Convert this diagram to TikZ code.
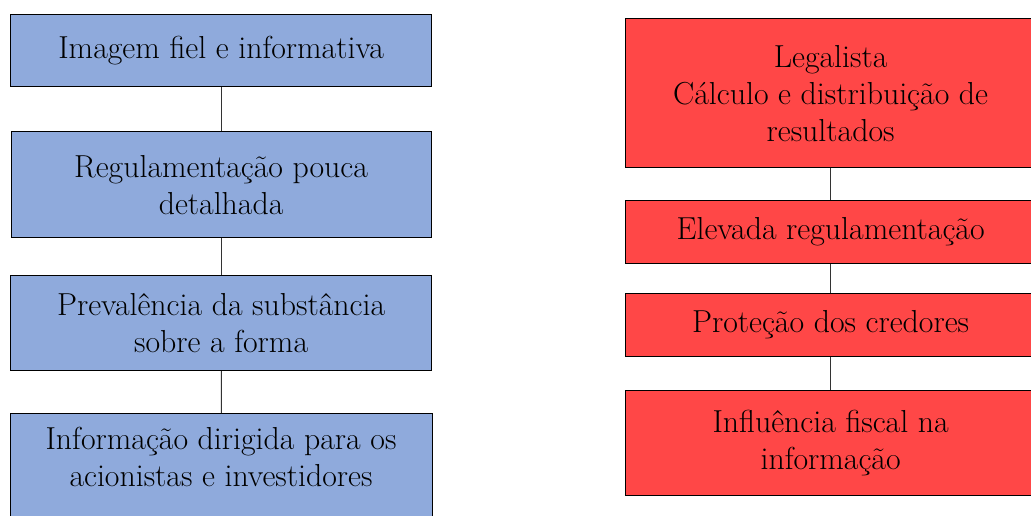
\documentclass[tikz,border=0pt]{standalone}
\usepackage{fontspec}
\newfontfamily\tnr{Latin Modern Roman}
\definecolor{boxblue}{RGB}{143,170,220}
\definecolor{boxred}{RGB}{255,71,71}
\begin{document}
\begin{tikzpicture}[x=1pt,y=-1pt,
  boxtext/.style={font=\tnr\fontsize{31.8}{37}\selectfont,align=center},
  box/.style={boxtext,draw=black,line width=1.2pt,rectangle,inner sep=0pt,anchor=north west},
  bluebox/.style={box,fill=boxblue},
  redbox/.style={box,fill=boxred},
  link/.style={draw=black!80,line width=1pt}]
\useasboundingbox (0,0) rectangle (1031,516);
\clip (0,0) rectangle (1031,516);
% left column
\node[bluebox,minimum width=421pt,minimum height=72pt] (l1) at (10,14) {Imagem fiel e informativa};
\node[bluebox,minimum width=420pt,minimum height=106pt] (l2) at (10.5,131) {Regulamentação pouca\\detalhada};
\node[bluebox,minimum width=421pt,minimum height=95pt] (l3) at (10,275) {Prevalência da substância\\sobre a forma};
\node[bluebox,minimum width=422pt,minimum height=118pt] (l4) at (10,413) {};
\node[boxtext,anchor=north] (l4t) at (221,424) {Informação dirigida para os\\acionistas e investidores};
\draw[link] (l1) -- (l2);
\draw[link] (l2) -- (l3);
\draw[link] (l3) -- (l4);
% right column
\node[redbox,minimum width=410pt,minimum height=149pt] (r1) at (625,18) {Legalista\\Cálculo e distribuição de\\resultados};
\node[redbox,minimum width=410pt,minimum height=63pt] (r2) at (625,200) {Elevada regulamentação};
\node[redbox,minimum width=410pt,minimum height=63pt] (r3) at (625,293) {Proteção dos credores};
\node[redbox,minimum width=410pt,minimum height=105pt] (r4) at (625,390) {Influência fiscal na\\informação};
\draw[link] (r1) -- (r2);
\draw[link] (r2) -- (r3);
\draw[link] (r3) -- (r4);
\end{tikzpicture}
\end{document}
